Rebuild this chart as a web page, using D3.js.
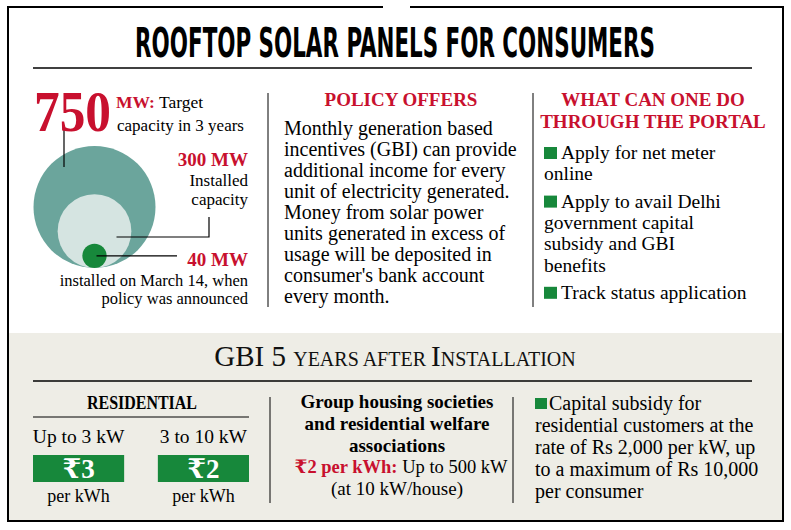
<!DOCTYPE html>
<html>
<head>
<meta charset="utf-8">
<script src="https://cdn.jsdelivr.net/npm/d3@7"></script>
<style>
  html, body { margin: 0; padding: 0; background: #ffffff; }
  svg { display: block; }
</style>
</head>
<body>
<svg id="chart" width="791" height="530"></svg>
<script>
// ---------------- DATA ----------------
const titleText = "ROOFTOP SOLAR PANELS FOR CONSUMERS";
const capacityValues = [750, 300, 40];
const capacityNumbers = ["750", "300 MW", "40 MW"];
const capacityNotes = [
  ["capacity in 3 years"],
  ["Installed", "capacity"],
  ["installed on March 14, when", "policy was announced"]
];
const policyHeading = "POLICY OFFERS";
const policyLines = [
  "Monthly generation based",
  "incentives (GBI) can provide",
  "additional income for every",
  "unit of electricity generated.",
  "Money from solar power",
  "units generated in excess of",
  "usage will be deposited in",
  "consumer's bank account",
  "every month."
];
const portalHeading = ["WHAT CAN ONE DO", "THROUGH THE PORTAL"];
const portalItems = [
  ["Apply for net meter", "online"],
  ["Apply to avail Delhi", "government capital", "subsidy and GBI", "benefits"],
  ["Track status application"]
];
const residentialHeading = "RESIDENTIAL";
const gbiCategories = ["Up to 3 kW", "3 to 10 kW"];
const gbiRates = [3, 2];
const gbiUnit = "per kWh";
const groupLines = ["Group housing societies", "and residential welfare", "associations"];
const groupRate = "₹2 per kWh:";
const groupLimit = ["Up to 500 kW", "(at 10 kW/house)"];
const subsidyLines = [
  "Capital subsidy for",
  "residential customers at the",
  "rate of Rs 2,000 per kW, up",
  "to a maximum of Rs 10,000",
  "per consumer"
];

// ---------------- STYLE ----------------
const RED = "#c8102e";
const GREEN = "#17883b";
const TEAL = "#6ba59c";
const PALE = "#d5e4e1";
const BEIGE = "#eeede6";
const SERIF = "'Liberation Serif', 'DejaVu Serif', serif";
const NARROW = "'Liberation Sans Narrow', 'DejaVu Sans Condensed', sans-serif";

const svg = d3.select("#chart");

// background band for lower section
svg.append("rect").attr("x", 9).attr("y", 333).attr("width", 773).attr("height", 187).attr("fill", BEIGE);

// outer frame with notch at top
svg.append("path")
  .attr("d", "M383,7 H8 V521 H783 V7 H410")
  .attr("fill", "none").attr("stroke", "#000").attr("stroke-width", 2);

// title (condensed by horizontal scaling to the target width)
const titleG = svg.append("g");
const titleEl = titleG.append("text")
  .attr("x", 0).attr("y", 0)
  .attr("text-anchor", "middle")
  .attr("font-family", NARROW).attr("font-weight", "bold").attr("font-size", 40)
  .text(titleText);
const natW = titleEl.node().getComputedTextLength() || 520;
titleG.attr("transform", `translate(395,57) scale(${520 / natW},1)`);
svg.append("line").attr("x1", 33).attr("x2", 752).attr("y1", 68).attr("y2", 68)
  .attr("stroke", "#000").attr("stroke-width", 1.5);

// dividers top
[268, 533].forEach(x => {
  svg.append("line").attr("x1", x).attr("x2", x).attr("y1", 93).attr("y2", 307)
    .attr("stroke", "#000").attr("stroke-width", 1);
});

// ---------------- LEFT: circles ----------------
const rScale = d3.scalePow().exponent(0.55).domain([0, d3.max(capacityValues)]).range([0, 61]);
const cx = 94.5, bottomY = 268;
const circleColors = [TEAL, PALE, GREEN];
svg.append("g").selectAll("circle").data(capacityValues).join("circle")
  .attr("cx", cx)
  .attr("cy", d => bottomY - rScale(d))
  .attr("r", d => rScale(d))
  .attr("fill", (d, i) => circleColors[i]);

// leader lines
const leader = svg.append("g").attr("stroke", "#000").attr("stroke-width", 1.2).attr("fill", "none");
leader.append("path").attr("d", "M64,127 V167");
leader.append("path").attr("d", `M${cx + 22},237 H209 V217`);
leader.append("path").attr("d", `M${cx + 2},${bottomY - rScale(capacityValues[2])} H177`);

// 750 MW label
svg.append("text").attr("x", 34).attr("y", 131)
  .attr("font-family", SERIF).attr("font-weight", "bold").attr("font-size", 56).attr("fill", RED)
  .attr("textLength", 77).attr("lengthAdjust", "spacingAndGlyphs")
  .text(capacityNumbers[0]);
const t750 = svg.append("text").attr("x", 116).attr("y", 108)
  .attr("font-family", SERIF).attr("font-size", 17.5);
t750.append("tspan").attr("fill", RED).attr("font-weight", "bold").text("MW:");
t750.append("tspan").attr("fill", "#000").text(" Target");
svg.append("text").attr("x", 117).attr("y", 131)
  .attr("font-family", SERIF).attr("font-size", 17)
  .text(capacityNotes[0][0]);

// 300 MW
svg.append("text").attr("x", 248).attr("y", 166).attr("text-anchor", "end")
  .attr("font-family", SERIF).attr("font-weight", "bold").attr("font-size", 19).attr("fill", RED)
  .text(capacityNumbers[1]);
capacityNotes[1].forEach((l, i) => {
  svg.append("text").attr("x", 248).attr("y", 186 + i * 19).attr("text-anchor", "end")
    .attr("font-family", SERIF).attr("font-size", 17).text(l);
});
// 40 MW
svg.append("text").attr("x", 248).attr("y", 266).attr("text-anchor", "end")
  .attr("font-family", SERIF).attr("font-weight", "bold").attr("font-size", 19).attr("fill", RED)
  .text(capacityNumbers[2]);
capacityNotes[2].forEach((l, i) => {
  svg.append("text").attr("x", 248).attr("y", 285.5 + i * 18.5).attr("text-anchor", "end")
    .attr("font-family", SERIF).attr("font-size", 16.5).text(l);
});

// ---------------- MIDDLE: policy ----------------
svg.append("text").attr("x", 401).attr("y", 106).attr("text-anchor", "middle")
  .attr("font-family", SERIF).attr("font-weight", "bold").attr("font-size", 19).attr("fill", RED)
  .text(policyHeading);
policyLines.forEach((l, i) => {
  svg.append("text").attr("x", 284).attr("y", 135 + i * 21)
    .attr("font-family", SERIF).attr("font-size", 20).text(l);
});

// ---------------- RIGHT: portal ----------------
portalHeading.forEach((l, i) => {
  svg.append("text").attr("x", 653).attr("y", 106 + i * 22).attr("text-anchor", "middle")
    .attr("font-family", SERIF).attr("font-weight", "bold").attr("font-size", 19).attr("fill", RED)
    .text(l);
});
let py = 159;
portalItems.forEach(item => {
  svg.append("rect").attr("x", 544).attr("y", py - 12).attr("width", 13).attr("height", 12).attr("fill", GREEN);
  item.forEach((l, j) => {
    svg.append("text").attr("x", j === 0 ? 561 : 544).attr("y", py)
      .attr("font-family", SERIF).attr("font-size", 19.5).text(l);
    py += 21.3;
  });
  py += 6;
});

// ---------------- BOTTOM ----------------
const gt = svg.append("text").attr("x", 395).attr("y", 366).attr("text-anchor", "middle")
  .attr("font-family", SERIF).attr("fill", "#111");
gt.append("tspan").attr("font-size", 29).text("GBI 5 ");
gt.append("tspan").attr("font-size", 20).text("YEARS AFTER ");
gt.append("tspan").attr("font-size", 29).text("I");
gt.append("tspan").attr("font-size", 20).text("NSTALLATION");
svg.append("line").attr("x1", 33).attr("x2", 752).attr("y1", 381).attr("y2", 381)
  .attr("stroke", "#000").attr("stroke-width", 1.5);

// residential
svg.append("text").attr("x", 142).attr("y", 409).attr("text-anchor", "middle")
  .attr("font-family", SERIF).attr("font-weight", "bold").attr("font-size", 19)
  .attr("textLength", 110).attr("lengthAdjust", "spacingAndGlyphs")
  .text(residentialHeading);
svg.append("line").attr("x1", 33).attr("x2", 249).attr("y1", 417).attr("y2", 417)
  .attr("stroke", "#000").attr("stroke-width", 1);

const xBand = d3.scaleBand().domain(gbiCategories).range([33, 249]).paddingInner(0.27);
const rg = svg.append("g").selectAll("g").data(gbiCategories).join("g");
rg.append("text").attr("x", d => xBand(d) + xBand.bandwidth() / 2).attr("y", 443).attr("text-anchor", "middle")
  .attr("font-family", SERIF).attr("font-size", 19.5).text(d => d);
rg.append("rect").attr("x", d => xBand(d)).attr("y", 455).attr("width", xBand.bandwidth()).attr("height", 27)
  .attr("fill", GREEN);
rg.append("text").attr("x", d => xBand(d) + xBand.bandwidth() / 2).attr("y", 478).attr("text-anchor", "middle")
  .attr("font-family", SERIF).attr("font-weight", "bold").attr("font-size", 27).attr("fill", "#fff")
  .text((d, i) => "₹" + gbiRates[i]);
rg.append("text").attr("x", d => xBand(d) + xBand.bandwidth() / 2).attr("y", 502).attr("text-anchor", "middle")
  .attr("font-family", SERIF).attr("font-size", 18).text(gbiUnit);

// dividers bottom
[270, 513].forEach(x => {
  svg.append("line").attr("x1", x).attr("x2", x).attr("y1", 397).attr("y2", 503)
    .attr("stroke", "#000").attr("stroke-width", 1);
});

// group housing
groupLines.forEach((l, i) => {
  svg.append("text").attr("x", 397).attr("y", 408 + i * 22).attr("text-anchor", "middle")
    .attr("font-family", SERIF).attr("font-weight", "bold").attr("font-size", 19).text(l);
});
const gr = svg.append("text").attr("x", 401).attr("y", 473).attr("text-anchor", "middle")
  .attr("font-family", SERIF).attr("font-size", 18.5);
gr.append("tspan").attr("fill", RED).attr("font-weight", "bold").text(groupRate);
gr.append("tspan").attr("fill", "#000").text(" " + groupLimit[0]);
svg.append("text").attr("x", 397).attr("y", 495).attr("text-anchor", "middle")
  .attr("font-family", SERIF).attr("font-size", 19).text(groupLimit[1]);

// subsidy
svg.append("rect").attr("x", 535).attr("y", 398).attr("width", 12).attr("height", 11).attr("fill", GREEN);
subsidyLines.forEach((l, i) => {
  svg.append("text").attr("x", i === 0 ? 549 : 535).attr("y", 410 + i * 22)
    .attr("font-family", SERIF).attr("font-size", 20).text(l);
});
</script>
</body>
</html>
